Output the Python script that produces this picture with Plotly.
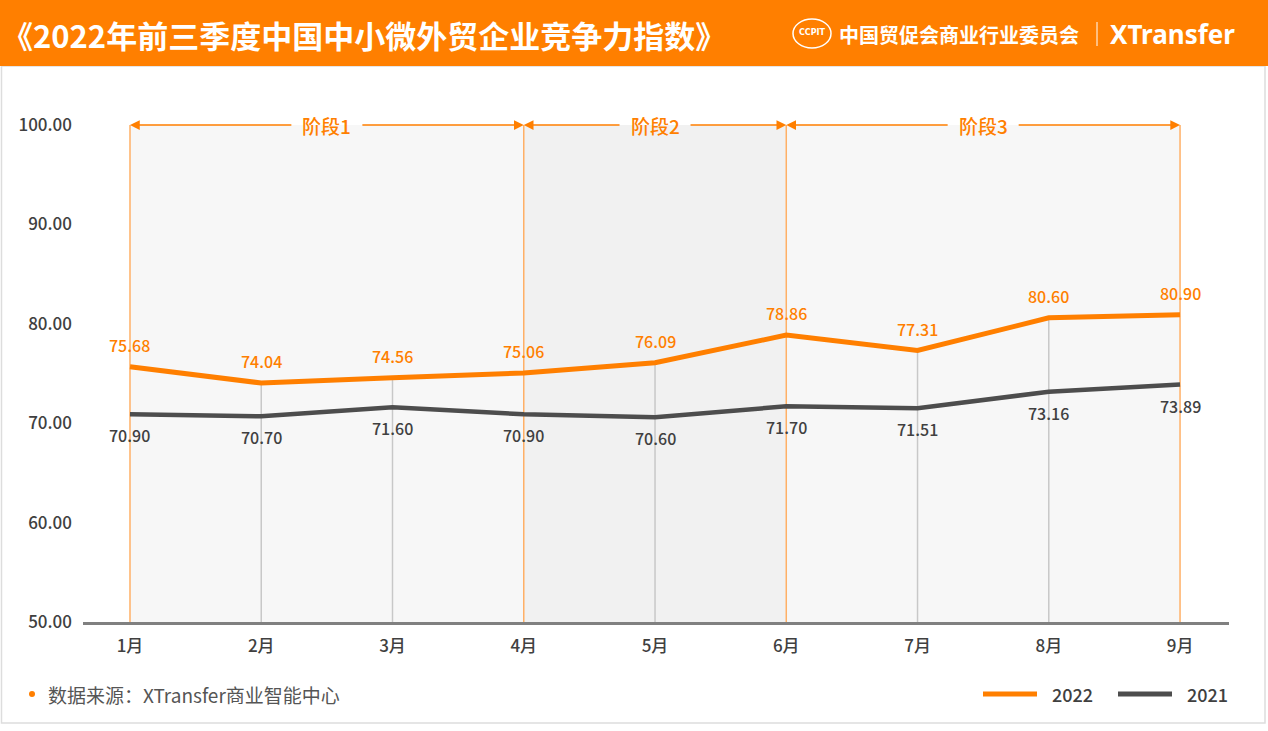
import plotly.graph_objects as go

months = ["1月", "2月", "3月", "4月", "5月", "6月", "7月", "8月", "9月"]
v2022 = [75.68, 74.04, 74.56, 75.06, 76.09, 78.86, 77.31, 80.60, 80.90]
v2021 = [70.90, 70.70, 71.60, 70.90, 70.60, 71.70, 71.51, 73.16, 73.89]
y_ticks = [50, 60, 70, 80, 90, 100]
phases = [("阶段1", 0, 3), ("阶段2", 3, 5), ("阶段3", 5, 8)]
phase_fill = ["#F7F7F7", "#F1F1F1", "#F7F7F7"]

W, H = 1268, 731
ML, MR, MT, MB = 83, 39, 125, 109
PW, PH = W - ML - MR, H - MT - MB
FONT = "Noto Sans CJK SC"
ORANGE = "#FF7F00"
DARK = "#4D4D4D"
TXT = "#404040"


def px(x):
    return (x - ML) / PW


def py(y):
    return (H - MB - y) / PH


x = list(range(len(months)))
fig = go.Figure()
fig.add_trace(go.Scatter(x=x, y=v2022, mode="lines", name="2022",
                         line=dict(color=ORANGE, width=5), hoverinfo="x+y"))
fig.add_trace(go.Scatter(x=x, y=v2021, mode="lines", name="2021",
                         line=dict(color=DARK, width=4.5), hoverinfo="x+y"))

shapes = []
annotations = []
ymin, ymax = y_ticks[0], y_ticks[-1]

# phase shading
for (label, s, e), fc in zip(phases, phase_fill):
    shapes.append(dict(type="rect", xref="x", yref="y", x0=s, x1=e, y0=ymin, y1=ymax,
                       fillcolor=fc, line=dict(width=0), layer="below"))
bounds = sorted(set([p[1] for p in phases] + [p[2] for p in phases]))
for i in x:
    if i in bounds:
        shapes.append(dict(type="line", xref="x", yref="y", x0=i, x1=i, y0=ymin, y1=ymax,
                           line=dict(color="#FFB066", width=1.5), layer="below"))
    else:
        shapes.append(dict(type="line", xref="x", yref="y", x0=i, x1=i, y0=ymin, y1=v2022[i],
                           line=dict(color="#C8C8C8", width=1.5), layer="below"))

# phase arrows + labels
gap = 34 / (PW / (len(months) - 1 + 0.358 + 0.373))
for label, s, e in phases:
    mid = (s + e) / 2
    for tip, tail in ((s, mid - gap), (e, mid + gap)):
        annotations.append(dict(x=tip, y=ymax, ax=tail, ay=ymax, xref="x", yref="y",
                                axref="x", ayref="y", text="", showarrow=True,
                                arrowhead=2, arrowsize=1.3, arrowwidth=1.5,
                                arrowcolor=ORANGE, standoff=0))
    annotations.append(dict(x=mid, y=ymax, xref="x", yref="y", text=label, showarrow=False,
                            font=dict(family=FONT, size=19, color=ORANGE, weight=500),
                            xanchor="center", yanchor="middle"))

# data labels
for i in x:
    annotations.append(dict(x=i, y=v2022[i], xref="x", yref="y", text=f"{v2022[i]:.2f}",
                            showarrow=False, yshift=22,
                            font=dict(family=FONT, size=16, color=ORANGE, weight=500)))
    annotations.append(dict(x=i, y=v2021[i], xref="x", yref="y", text=f"{v2021[i]:.2f}",
                            showarrow=False, yshift=-21,
                            font=dict(family=FONT, size=16, color=TXT, weight=500)))

# header
shapes.append(dict(type="rect", xref="paper", yref="paper", x0=px(0), x1=px(W),
                   y0=py(66), y1=py(0), fillcolor=ORANGE, line=dict(width=0), layer="above"))
# border
shapes.append(dict(type="rect", xref="paper", yref="paper", x0=px(1.5), x1=px(1265),
                   y0=py(723), y1=py(66), fillcolor="rgba(0,0,0,0)",
                   line=dict(color="#DDDDDD", width=1.5), layer="below"))
annotations.append(dict(x=px(0), y=py(34), xref="paper", yref="paper",
                        text="《2022年前三季度中国中小微外贸企业竞争力指数》",
                        showarrow=False, xanchor="left", yanchor="middle",
                        font=dict(family=FONT, size=31, color="white", weight="bold")))
# logo
shapes.append(dict(type="circle", xref="paper", yref="paper", x0=px(793), x1=px(831),
                   y0=py(48), y1=py(19), line=dict(color="white", width=1.5), layer="above"))
annotations.append(dict(x=px(812), y=py(33), xref="paper", yref="paper", text="<b>CCPIT</b>",
                        showarrow=False, xanchor="center", yanchor="middle",
                        font=dict(family="DejaVu Sans", size=8, color="white")))
annotations.append(dict(x=px(837), y=py(34), xref="paper", yref="paper",
                        text="中国贸促会商业行业委员会", showarrow=False,
                        xanchor="left", yanchor="middle",
                        font=dict(family=FONT, size=20, color="white", weight="bold")))
shapes.append(dict(type="line", xref="paper", yref="paper", x0=px(1097), x1=px(1097),
                   y0=py(46), y1=py(22), line=dict(color="white", width=1), layer="above"))
annotations.append(dict(x=px(1108), y=py(34), xref="paper", yref="paper",
                        text="XTransfer", showarrow=False, xanchor="left", yanchor="middle",
                        font=dict(family="Noto Sans", size=26, color="white", weight="bold")))

# footer source
shapes.append(dict(type="circle", xref="paper", yref="paper", x0=px(29), x1=px(35),
                   y0=py(697), y1=py(691), fillcolor=ORANGE, line=dict(width=0)))
annotations.append(dict(x=px(46), y=py(694), xref="paper", yref="paper",
                        text="数据来源：XTransfer商业智能中心", showarrow=False,
                        xanchor="left", yanchor="middle",
                        font=dict(family=FONT, size=19, color="#555555")))

# custom legend
for name, color, x0 in (("2022", ORANGE, 983), ("2021", DARK, 1118)):
    shapes.append(dict(type="line", xref="paper", yref="paper", x0=px(x0), x1=px(x0 + 54),
                       y0=py(694), y1=py(694), line=dict(color=color, width=5)))
    annotations.append(dict(x=px(x0 + 67), y=py(694), xref="paper", yref="paper",
                            text=name, showarrow=False, xanchor="left", yanchor="middle",
                            font=dict(family=FONT, size=18, color=TXT, weight=500)))

fig.update_layout(
    width=W, height=H,
    margin=dict(l=ML, r=MR, t=MT, b=MB, pad=0),
    paper_bgcolor="white", plot_bgcolor="white",
    showlegend=False,
    shapes=shapes, annotations=annotations,
    xaxis=dict(range=[-0.358, len(months) - 1 + 0.373], tickmode="array", tickvals=x,
               ticktext=months, showgrid=False, zeroline=False, showline=True,
               linecolor="#808080", linewidth=3, ticks="", ticklabelstandoff=7,
               tickfont=dict(family=FONT, size=17, color=TXT, weight=500), fixedrange=True),
    yaxis=dict(range=[ymin, ymax], tickmode="array", tickvals=y_ticks,
               ticktext=[f"{v:.2f}" for v in y_ticks], showgrid=False, zeroline=False,
               showline=False, ticks="", ticklabelstandoff=10,
               tickfont=dict(family=FONT, size=17, color=TXT, weight=500), fixedrange=True),
)

fig.write_html("out.html", config={"displayModeBar": False},
               post_script="document.body.style.margin='0';document.body.style.overflow='hidden';")
